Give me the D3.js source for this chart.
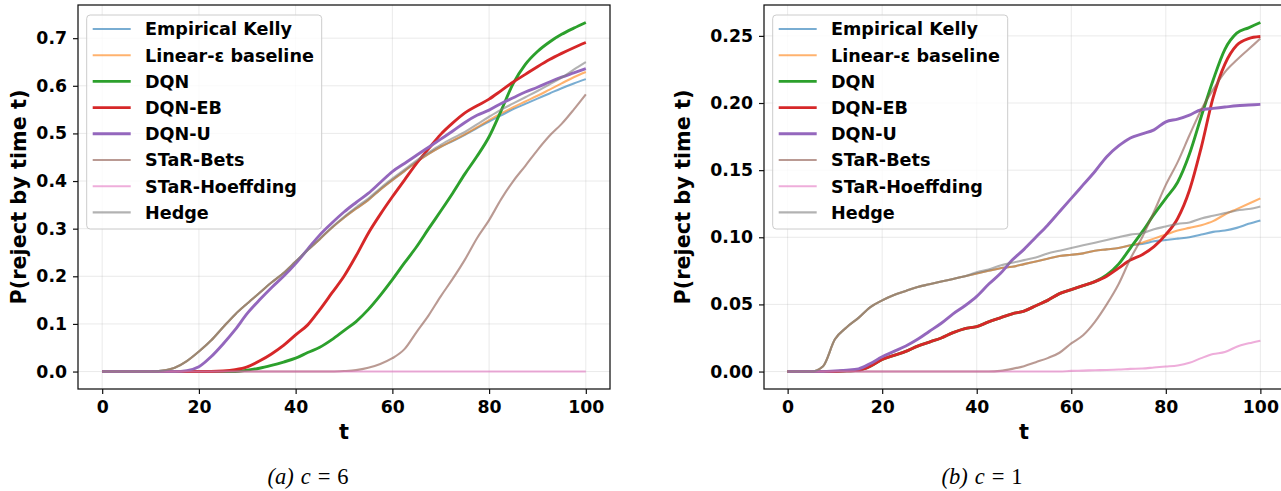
<!DOCTYPE html>
<html><head><meta charset="utf-8">
<script src="https://cdn.jsdelivr.net/npm/d3@7"></script>
<style>body{margin:0;background:#fff} svg{display:block}</style>
</head><body><svg id="chart" width="1281" height="491"></svg>
<script>
// ---------- DATA ----------
const tValues = [0,2.5,5,7.5,10,12.5,15,17.5,20,22.5,25,27.5,30,32.5,35,37.5,40,42.5,45,47.5,50,52.5,55,57.5,60,62.5,65,67.5,70,72.5,75,77.5,80,82.5,85,87.5,90,92.5,95,97.5,100];

const seriesNames = ["Empirical Kelly","Linear-\u03b5 baseline","DQN","DQN-EB","DQN-U","STaR-Bets","STaR-Hoeffding","Hedge"];

const xTicks = [0,20,40,60,80,100];
const yTicksA = [0,0.1,0.2,0.3,0.4,0.5,0.6,0.7];
const yTicksB = [0,0.05,0.10,0.15,0.20,0.25];
const captionA = ["(a)", "c", "=", "6"];
const captionB = ["(b)", "c", "=", "1"];

// panel (a) c = 6
const aEmpiricalKelly = [0,0,0,0,0,0.002,0.008,0.022,0.042,0.065,0.093,0.12,0.143,0.165,0.187,0.207,0.231,0.255,0.278,0.302,0.323,0.342,0.36,0.382,0.402,0.421,0.44,0.457,0.472,0.484,0.497,0.511,0.525,0.538,0.551,0.562,0.573,0.584,0.595,0.605,0.614];
const aLinearEps      = [0,0,0,0,0,0.002,0.008,0.022,0.042,0.065,0.093,0.12,0.143,0.165,0.187,0.207,0.231,0.255,0.278,0.302,0.323,0.342,0.36,0.382,0.402,0.421,0.44,0.457,0.472,0.485,0.498,0.513,0.528,0.542,0.555,0.567,0.579,0.592,0.605,0.618,0.629];
const aDQN            = [0,0,0,0,0,0,0,0,0,0,0,0,0.003,0.007,0.013,0.02,0.028,0.04,0.051,0.067,0.086,0.105,0.13,0.16,0.193,0.228,0.262,0.3,0.337,0.375,0.415,0.452,0.493,0.548,0.605,0.645,0.672,0.692,0.708,0.721,0.733];
const aDQNEB          = [0,0,0,0,0,0,0,0,0,0,0.001,0.004,0.01,0.022,0.037,0.055,0.077,0.098,0.13,0.165,0.2,0.243,0.29,0.33,0.367,0.402,0.437,0.468,0.498,0.522,0.543,0.558,0.572,0.59,0.608,0.624,0.64,0.655,0.668,0.68,0.691];
const aDQNU           = [0,0,0,0,0,0,0,0.002,0.01,0.031,0.058,0.088,0.122,0.15,0.176,0.2,0.227,0.257,0.287,0.312,0.335,0.355,0.374,0.397,0.42,0.437,0.454,0.471,0.488,0.505,0.523,0.538,0.549,0.563,0.575,0.587,0.597,0.608,0.618,0.627,0.636];
const aStarBets       = [0,0,0,0,0,0,0,0,0,0,0,0,0,0,0,0,0,0,0,0,0.001,0.003,0.008,0.016,0.028,0.047,0.083,0.118,0.158,0.195,0.235,0.28,0.318,0.362,0.4,0.432,0.465,0.495,0.52,0.55,0.582];
const aStarHoeffding  = [0,0,0,0,0,0,0,0,0,0,0,0,0,0,0,0,0,0,0,0,0,0,0,0,0,0,0,0,0,0,0,0,0,0,0,0,0,0,0,0,0];
const aHedge          = [0,0,0,0,0,0.002,0.008,0.022,0.042,0.065,0.093,0.12,0.143,0.165,0.187,0.207,0.231,0.255,0.279,0.303,0.325,0.345,0.363,0.385,0.405,0.424,0.443,0.46,0.476,0.49,0.503,0.519,0.535,0.55,0.563,0.576,0.589,0.603,0.617,0.634,0.65];

// panel (b) c = 1
const bEmpiricalKelly = [0,0,0,0.004,0.024,0.033,0.04,0.048,0.053,0.057,0.06,0.063,0.065,0.067,0.069,0.071,0.073,0.075,0.077,0.078,0.08,0.082,0.084,0.086,0.087,0.088,0.09,0.091,0.092,0.094,0.095,0.097,0.098,0.099,0.1,0.102,0.104,0.105,0.107,0.11,0.1125];
const bLinearEps      = [0,0,0,0.004,0.024,0.033,0.04,0.048,0.053,0.057,0.06,0.063,0.065,0.067,0.069,0.071,0.073,0.075,0.077,0.078,0.08,0.082,0.084,0.086,0.087,0.088,0.09,0.091,0.092,0.094,0.096,0.099,0.102,0.105,0.107,0.109,0.112,0.117,0.121,0.125,0.129];
const bDQN            = [0,0,0,0,0,0.0005,0.001,0.004,0.009,0.012,0.015,0.019,0.022,0.025,0.029,0.032,0.0335,0.037,0.04,0.043,0.045,0.049,0.053,0.058,0.061,0.064,0.067,0.072,0.08,0.092,0.104,0.117,0.129,0.141,0.162,0.19,0.217,0.24,0.252,0.256,0.26];
const bDQNEB          = [0,0,0,0,0,0.0005,0.001,0.004,0.009,0.012,0.015,0.019,0.022,0.025,0.029,0.032,0.0335,0.037,0.04,0.043,0.045,0.049,0.053,0.058,0.061,0.064,0.067,0.071,0.077,0.083,0.087,0.093,0.102,0.114,0.135,0.167,0.204,0.229,0.243,0.248,0.2495];
const bDQNU           = [0,0,0,0,0.0005,0.001,0.002,0.006,0.011,0.015,0.019,0.024,0.03,0.036,0.043,0.049,0.056,0.065,0.073,0.083,0.091,0.1,0.109,0.119,0.129,0.139,0.149,0.16,0.168,0.174,0.177,0.18,0.186,0.188,0.191,0.195,0.196,0.197,0.198,0.1985,0.199];
const bStarBets       = [0,0,0,0,0,0,0,0,0,0,0,0,0,0,0,0,0,0,0.0005,0.002,0.004,0.007,0.01,0.014,0.021,0.027,0.037,0.05,0.065,0.084,0.1,0.119,0.139,0.156,0.176,0.195,0.21,0.223,0.232,0.24,0.248];
const bStarHoeffding  = [0,0,0,0,0,0,0,0,0,0,0,0,0,0,0,0,0,0,0,0,0,0,0,0,0.0005,0.0007,0.001,0.0012,0.0015,0.002,0.0023,0.003,0.0037,0.0045,0.0065,0.01,0.013,0.0145,0.0185,0.021,0.023];
const bHedge          = [0,0,0,0.004,0.024,0.033,0.04,0.048,0.053,0.057,0.06,0.063,0.065,0.067,0.069,0.071,0.074,0.076,0.079,0.081,0.083,0.085,0.088,0.09,0.092,0.094,0.096,0.098,0.1,0.102,0.103,0.106,0.108,0.11,0.111,0.114,0.116,0.118,0.12,0.121,0.123];

// ---------- STYLE ----------
const seriesColors = ["#1f77b4","#ff7f0e","#2ca02c","#d62728","#9467bd","#8c564b","#e377c2","#7f7f7f"];
const seriesOpacity = [0.6,0.6,1,1,1,0.6,0.6,0.6];
const seriesWidth = [2.1,2.1,2.9,2.9,2.9,2.1,2.1,2.1];
const FONT = "'DejaVu Sans', sans-serif";

const svg = d3.select("#chart");

// font size that makes a string reach a given pixel width
function fitSize(str, targetWidth, family, weight, style) {
  const t = svg.append("text").attr("font-family",family).attr("font-weight",weight||"normal")
    .attr("font-style",style||"normal").attr("font-size","100px").text(str);
  const w = t.node().getComputedTextLength();
  t.remove();
  return w > 0 ? 100*targetWidth/w : 17;
}
const tickSize = Math.min(18, Math.max(15, fitSize("0.00", 42.7, FONT, "bold")));
const legendSize = Math.min(19.5, Math.max(16, fitSize("Empirical Kelly", 147, FONT, "bold")));
const labelSize = Math.min(22, Math.max(17, fitSize("P(reject by time t)", 215, FONT, "bold")));

const panels = [
  {x0:78, x1:610, y0:5, y1:389, yDomain:[-0.03665,0.76965], yTicks:yTicksA, fmt:d3.format(".1f"),
   data:[aEmpiricalKelly,aLinearEps,aDQN,aDQNEB,aDQNU,aStarBets,aStarHoeffding,aHedge],
   yLabelBase:26, captionX:308, caption:captionA},
  {x0:764, x1:1284, y0:5, y1:389, yDomain:[-0.013,0.273], yTicks:yTicksB, fmt:d3.format(".2f"),
   data:[bEmpiricalKelly,bLinearEps,bDQN,bDQNEB,bDQNU,bStarBets,bStarHoeffding,bHedge],
   yLabelBase:690, captionX:982, caption:captionB}
];

panels.forEach(p => {
  const x = d3.scaleLinear().domain([-5,105]).range([p.x0,p.x1]);
  const y = d3.scaleLinear().domain(p.yDomain).range([p.y1,p.y0]);
  const g = svg.append("g");

  // grid
  g.append("g").selectAll("line").data(xTicks).join("line")
    .attr("x1",d=>x(d)).attr("x2",d=>x(d)).attr("y1",p.y0).attr("y2",p.y1)
    .attr("stroke","#b0b0b0").attr("stroke-opacity",0.3).attr("stroke-width",0.9);
  g.append("g").selectAll("line").data(p.yTicks).join("line")
    .attr("x1",p.x0).attr("x2",p.x1).attr("y1",d=>y(d)).attr("y2",d=>y(d))
    .attr("stroke","#b0b0b0").attr("stroke-opacity",0.3).attr("stroke-width",0.9);

  // lines
  const line = d3.line().x((d,i)=>x(tValues[i])).y(d=>y(d)).curve(d3.curveMonotoneX);
  p.data.forEach((arr,k) => {
    g.append("path").datum(arr).attr("d",line).attr("fill","none")
      .attr("stroke",seriesColors[k]).attr("stroke-opacity",seriesOpacity[k])
      .attr("stroke-width",seriesWidth[k]).attr("stroke-linejoin","round").attr("stroke-linecap","butt");
  });

  // spines
  g.append("rect").attr("x",p.x0).attr("y",p.y0).attr("width",p.x1-p.x0).attr("height",p.y1-p.y0)
    .attr("fill","none").attr("stroke","#111").attr("stroke-width",1.25);

  // axes
  const xa = g.append("g").attr("transform",`translate(0,${p.y1})`)
    .call(d3.axisBottom(x).tickValues(xTicks).tickSize(5).tickPadding(7).tickFormat(d3.format("d")));
  const ya = g.append("g").attr("transform",`translate(${p.x0},0)`)
    .call(d3.axisLeft(y).tickValues(p.yTicks).tickSize(5).tickPadding(6).tickFormat(p.fmt));
  [xa,ya].forEach(a => {
    a.select(".domain").remove();
    a.selectAll(".tick line").attr("stroke","#111").attr("stroke-width",1.2);
    a.selectAll(".tick text").attr("font-family",FONT).attr("font-weight","bold")
      .attr("font-size",tickSize+"px").attr("fill","#000");
  });

  // axis labels
  g.append("text").attr("x",(p.x0+p.x1)/2).attr("y",439).attr("text-anchor","middle")
    .attr("font-family",FONT).attr("font-weight","bold").attr("font-size",labelSize+"px").text("t");
  g.append("text").attr("transform",`translate(${p.yLabelBase},${(p.y0+p.y1)/2}) rotate(-90)`)
    .attr("text-anchor","middle").attr("font-family",FONT).attr("font-weight","bold")
    .attr("font-size",labelSize+"px").text("P(reject by time t)");

  // legend
  const lx = p.x0+8.7, ly = p.y0+10;
  const lg = g.append("g");
  lg.append("rect").attr("x",lx).attr("y",ly).attr("width",235).attr("height",214).attr("rx",3.5)
    .attr("fill","#fff").attr("fill-opacity",0.8).attr("stroke","#cccccc").attr("stroke-width",1);
  seriesNames.forEach((name,k) => {
    const cy = ly + 14 + k*26.2;
    lg.append("line").attr("x1",lx+6).attr("x2",lx+44).attr("y1",cy).attr("y2",cy)
      .attr("stroke",seriesColors[k]).attr("stroke-opacity",seriesOpacity[k]).attr("stroke-width",seriesWidth[k]);
    lg.append("text").attr("x",lx+58.3).attr("y",cy+0.36*legendSize).attr("font-family",FONT)
      .attr("font-weight","bold").attr("font-size",legendSize+"px").attr("fill","#000").text(name);
  });

  // caption
  const cap = svg.append("text").attr("x",p.captionX).attr("y",484).attr("text-anchor","middle")
    .attr("font-family","'Liberation Serif', serif").attr("font-size","22.5px").attr("fill","#000");
  cap.append("tspan").attr("font-style","italic").text(p.caption[0]);
  cap.append("tspan").attr("dx",7).attr("font-style","italic").text(p.caption[1]);
  cap.append("tspan").attr("dx",7).text(p.caption[2]);
  cap.append("tspan").attr("dx",7).text(p.caption[3]);
});
</script>
</body></html>
